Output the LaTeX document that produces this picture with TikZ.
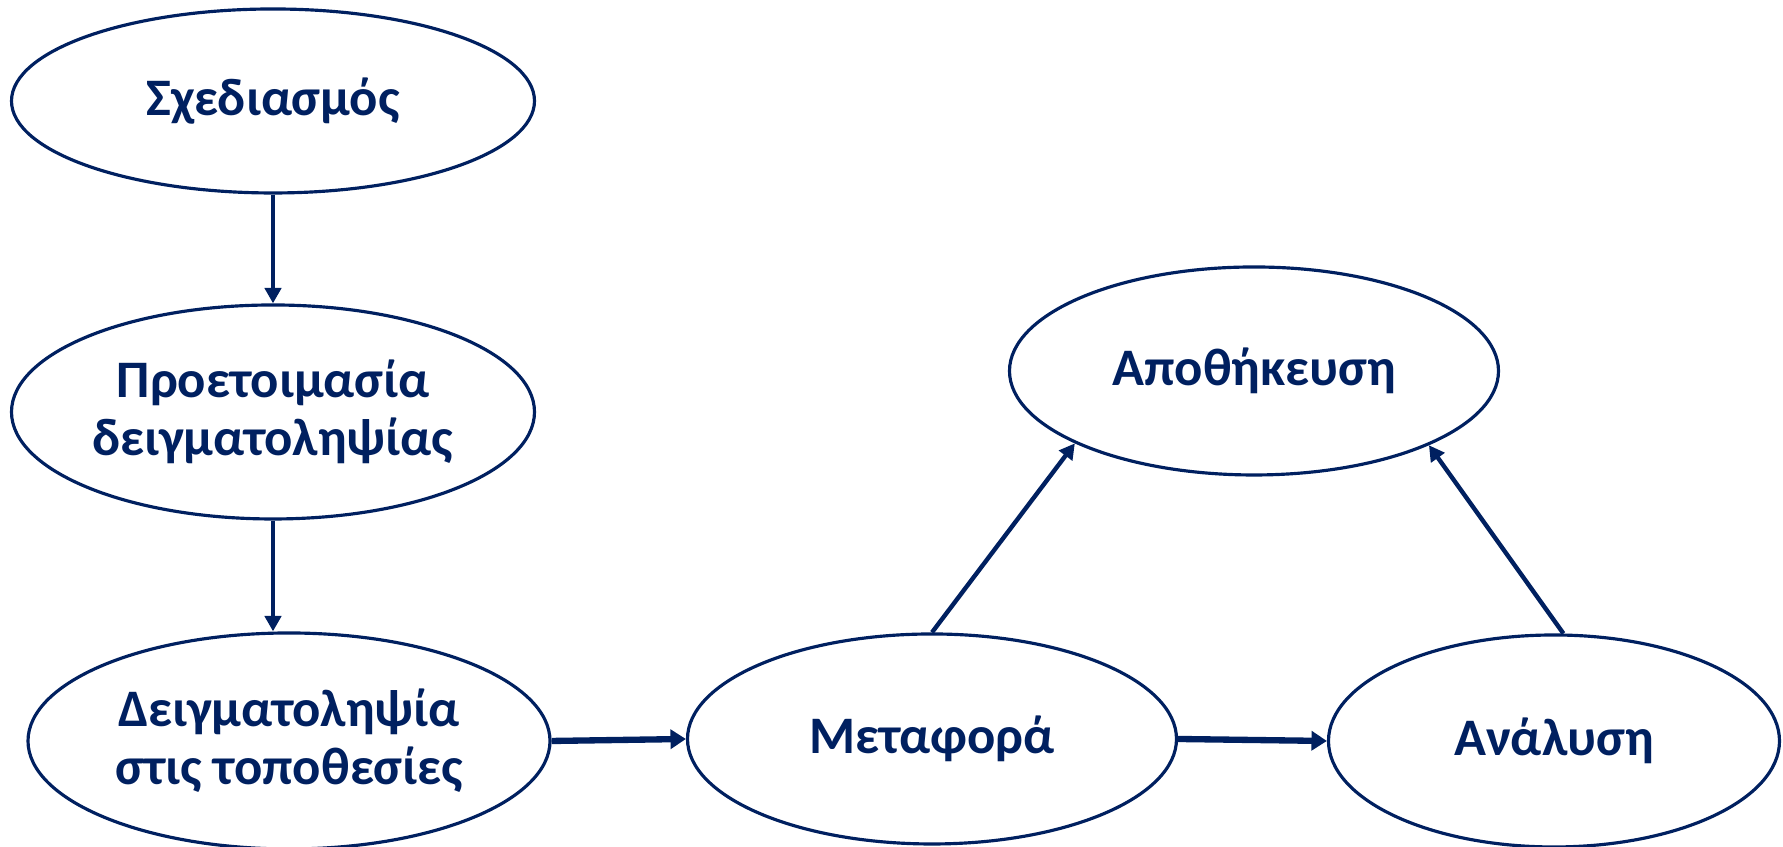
\documentclass[tikz,border=0pt]{standalone}
\usepackage{fontspec}
\setmainfont{Carlito}
\usetikzlibrary{arrows.meta, shapes.geometric, positioning}
\definecolor{navycol}{RGB}{0,32,96}
\tikzset{every node/.append style={align=center}}
\tikzset{
  stage/.style={ellipse, draw=navycol, line width=0.9pt, fill=white,
                text=navycol, font=\fontsize{15}{16.5}\selectfont\bfseries,
                inner sep=0pt},
  flow/.style={navycol, line width=1.25pt,
               -{Triangle[width=4.6pt, length=4.4pt]}},
  bigflow/.style={navycol, line width=1.8pt,
                  -{Triangle[width=5.4pt, length=4.4pt]}}
}

\begin{document}
\begin{tikzpicture}

\useasboundingbox (0,0) rectangle (17.83,8.47);

% ── Preparation column ───────────────────────────────────────────────────────
\node[stage, minimum width=5.23cm, minimum height=1.84cm] (plan) at (2.73,7.46)
     {Σχεδιασμός};
\node[stage, minimum width=5.23cm, minimum height=2.14cm] (prep) at (2.73,4.35)
     {Προετοιμασία\\ δειγματοληψίας};
\node[stage, minimum width=5.22cm, minimum height=2.16cm] (samp) at (2.89,1.06)
     {Δειγματοληψία\\ στις τοποθεσίες};

% ── Handling of the samples ──────────────────────────────────────────────────
\node[stage, minimum width=4.89cm, minimum height=2.10cm] (trans) at (9.32,1.08)
     {Μεταφορά};
\node[stage, minimum width=4.89cm, minimum height=2.08cm] (store) at (12.54,4.76)
     {Αποθήκευση};
\node[stage, minimum width=4.51cm, minimum height=2.12cm] (anal) at (15.54,1.06)
     {Ανάλυση};

% ── Arrows ───────────────────────────────────────────────────────────────────
\draw[flow] (plan.south) -- (prep.north);
\draw[flow] (prep.south) -- (prep.south |- samp.north);
\draw[bigflow] (samp.east) -- (trans.west);
\draw[bigflow] (trans.east) -- (anal.west);
\draw[flow] (trans.north) -- (store.202);
\draw[flow] (anal.85) -- (store.337);

\end{tikzpicture}
\end{document}
